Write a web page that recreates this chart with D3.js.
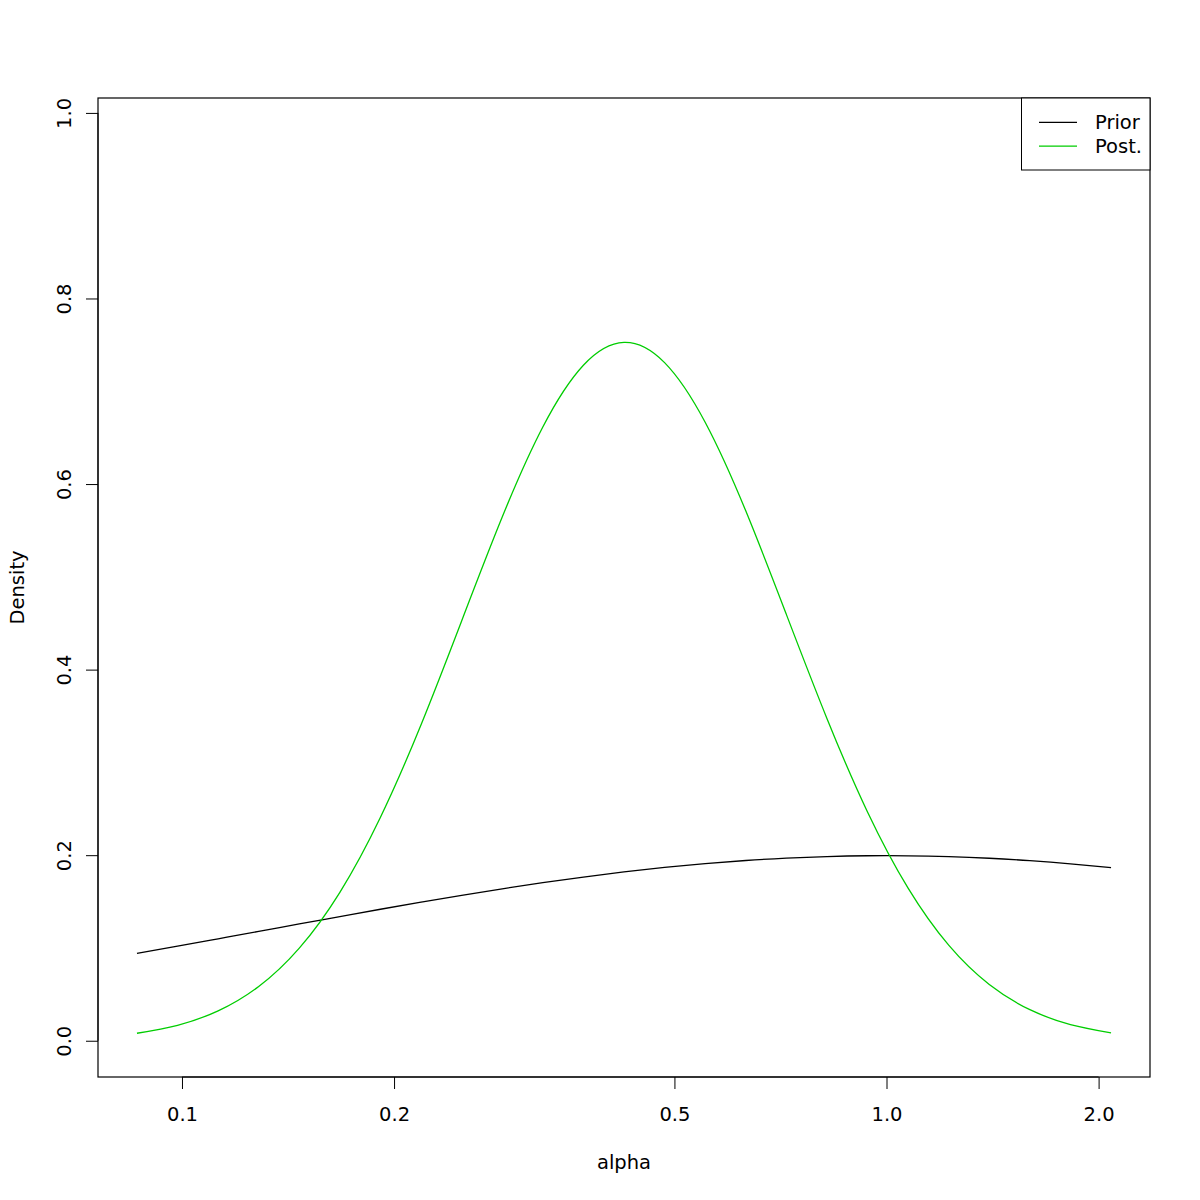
<!DOCTYPE html>
<html>
<head>
<meta charset="utf-8">
<script src="https://cdn.jsdelivr.net/npm/d3@7"></script>
<style>
  body { margin: 0; background: #fff; }
  svg { display: block; }
  text { font-family: "DejaVu Sans", sans-serif; font-size: 19.5px; fill: #000; }
</style>
</head>
<body>
<svg id="chart" width="1200" height="1200"></svg>
<script>
// alpha grid (log-spaced)
const alpha = [0.08632, 0.09856, 0.11254, 0.12850, 0.14673, 0.16754, 0.19131, 0.21844,
  0.24943, 0.28481, 0.32521, 0.37134, 0.42401, 0.48416, 0.55284, 0.63126, 0.72080,
  0.82305, 0.93980, 1.07311, 1.22533, 1.39915, 1.59762, 1.82424, 2.08301];
const prior = [0.09421, 0.10196, 0.10986, 0.11785, 0.12588, 0.13385, 0.14171, 0.14937,
  0.15675, 0.16378, 0.17037, 0.17644, 0.18194, 0.18678, 0.19090, 0.19426, 0.19682,
  0.19853, 0.19937, 0.19935, 0.19844, 0.19668, 0.19407, 0.19066, 0.18648];
const post = [0.00809, 0.01665, 0.03221, 0.05850, 0.09984, 0.16000, 0.24092, 0.34064,
  0.45249, 0.56446, 0.66148, 0.72804, 0.75268, 0.73090, 0.66662, 0.57113, 0.45955,
  0.34738, 0.24658, 0.16445, 0.10299, 0.06060, 0.03348, 0.01738, 0.00847];
const xTicks = [0.1, 0.2, 0.5, 1.0, 2.0];
const xTickLabels = ["0.1", "0.2", "0.5", "1.0", "2.0"];
const yTicks = [0.0, 0.2, 0.4, 0.6, 0.8, 1.0];
const yTickLabels = ["0.0", "0.2", "0.4", "0.6", "0.8", "1.0"];
const ylim = [0, 0.977];
const seriesNames = ["Prior", "Post."];
const seriesColors = ["#000000", "#00CD00"];

const svg = d3.select("#chart");
const L = 98, R = 1150, T = 98, B = 1077;

// R-style 4% extension
const lx = d3.extent(alpha).map(Math.log10);
const dx = (lx[1] - lx[0]) * 0.04;
const x = d3.scaleLog()
  .domain([Math.pow(10, lx[0] - dx), Math.pow(10, lx[1] + dx)])
  .range([L, R]);
const dy = (ylim[1] - ylim[0]) * 0.04;
const y = d3.scaleLinear().domain([ylim[0] - dy, ylim[1] + dy]).range([B, T]);

// curves
const line = d3.line().x(d => x(d[0])).y(d => y(d[1])).curve(d3.curveNatural);
[prior, post].forEach((s, i) => {
  svg.append("path")
    .attr("d", line(alpha.map((a, j) => [a, s[j]])))
    .attr("fill", "none")
    .attr("stroke", seriesColors[i])
    .attr("stroke-width", 1.3);
});

// box
svg.append("rect").attr("x", L).attr("y", T).attr("width", R - L).attr("height", B - T)
  .attr("fill", "none").attr("stroke", "#000").attr("stroke-width", 1.2);

// x axis
const xa = svg.append("g").attr("transform", `translate(0,${B})`)
  .call(d3.axisBottom(x).tickValues(xTicks).tickSize(12).tickPadding(20)
    .tickFormat((d, i) => xTickLabels[i]));
xa.select(".domain").attr("d", `M${x(xTicks[0])},0H${x(xTicks[xTicks.length-1])}`).attr("stroke", "#000");
xa.selectAll("text").attr("font-size", 19.5).attr("font-family", "DejaVu Sans").attr("fill", "#000")
  .attr("dy", null).attr("y", 44);
xa.selectAll("line").attr("stroke", "#000");

// y axis
const ya = svg.append("g").attr("transform", `translate(${L},0)`)
  .call(d3.axisLeft(y).tickValues(yTicks).tickSize(12)
    .tickFormat((d, i) => yTickLabels[i]));
ya.select(".domain").attr("d", `M0,${y(yTicks[0])}V${y(yTicks[yTicks.length-1])}`).attr("stroke", "#000");
ya.selectAll("line").attr("stroke", "#000");
ya.selectAll(".tick text")
  .attr("x", null).attr("dy", null)
  .attr("text-anchor", "middle")
  .attr("font-size", 19.5).attr("font-family", "DejaVu Sans").attr("fill", "#000")
  .attr("transform", "translate(-27.5,0) rotate(-90)");

// axis titles
svg.append("text").attr("x", (L + R) / 2).attr("y", 1169).attr("text-anchor", "middle").text("alpha");
svg.append("text").attr("transform", `translate(23.7,${(T + B) / 2}) rotate(-90)`)
  .attr("text-anchor", "middle").text("Density");

// legend
const lg = svg.append("g");
lg.append("rect").attr("x", 1021.5).attr("y", T).attr("width", R - 1021.5).attr("height", 72)
  .attr("fill", "#fff").attr("stroke", "#000").attr("stroke-width", 1);
seriesNames.forEach((n, i) => {
  const yy = 122.3 + i * 23.8;
  lg.append("line").attr("x1", 1039).attr("x2", 1077).attr("y1", yy).attr("y2", yy)
    .attr("stroke", seriesColors[i]).attr("stroke-width", 1.3);
  lg.append("text").attr("x", 1095).attr("y", yy).attr("dy", "0.36em").text(n);
});
</script>
</body>
</html>
